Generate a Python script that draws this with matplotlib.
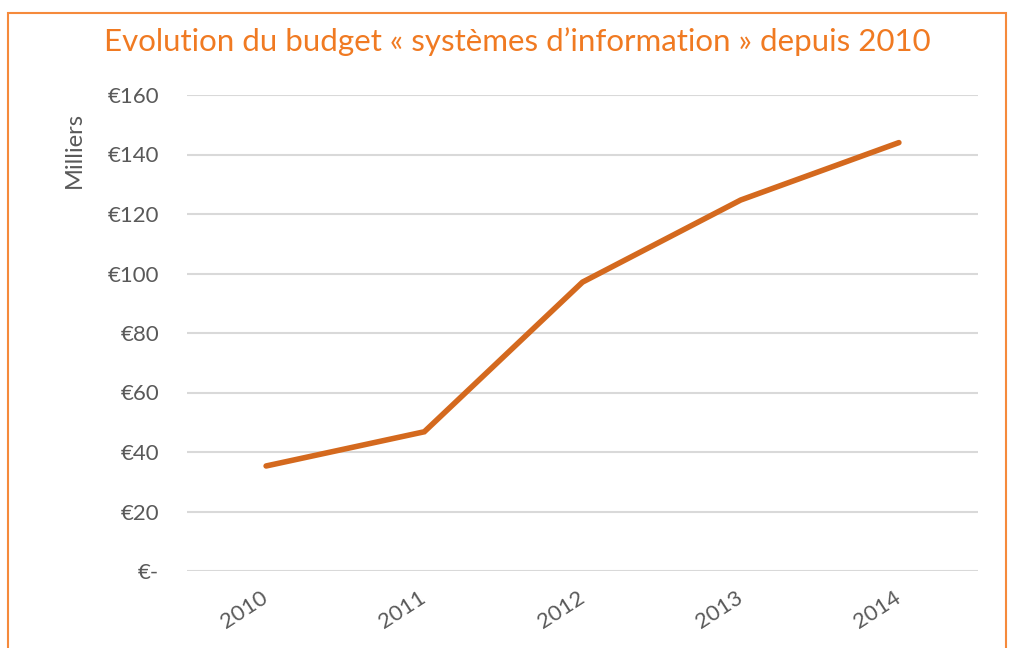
import matplotlib.pyplot as plt
from matplotlib.patches import Rectangle

# Budget data (thousands of euros)
years = ["2010", "2011", "2012", "2013", "2014"]
budget = [35.3, 46.8, 97.1, 124.7, 144.0]
y_ticks = [0, 20, 40, 60, 80, 100, 120, 140, 160]
y_tick_labels = ["€-", "€20", "€40", "€60", "€80", "€100", "€120", "€140", "€160"]

plt.rcParams["font.family"] = ["Lato", "DejaVu Sans"]

fig = plt.figure(figsize=(10.09, 6.48), dpi=100)
ax = fig.add_axes([187 / 1009, 1 - 571 / 648, (978 - 187) / 1009, (571 - 95) / 648])

x = list(range(len(years)))
ax.plot(x, budget, color="#D4691E", linewidth=4, solid_capstyle="round", solid_joinstyle="miter", zorder=3)

ax.set_xlim(-0.5, len(years) - 0.5)
ax.set_ylim(0, 160)
ax.set_yticks(y_ticks)
ax.set_yticklabels(y_tick_labels, fontsize=16, color="#595959")
ax.set_xticks(x)
ax.set_xticklabels(years, fontsize=16, color="#595959", rotation=33,
                   ha="right", va="center", rotation_mode="anchor")
ax.tick_params(axis="y", length=0, pad=20)
ax.tick_params(axis="x", length=0, pad=18)
ax.grid(axis="y", color="#D9D9D9", linewidth=1.5)
ax.set_axisbelow(True)
for s in ax.spines.values():
    s.set_visible(False)

fig.text(74 / 1009, 1 - 150 / 648, "Milliers", rotation=90, fontsize=17,
         color="#595959", ha="center", va="center")
fig.text(517 / 1009, 1 - 42 / 648, "Evolution du budget « systèmes d’information » depuis 2010",
         fontsize=22.5, color="#F07A22", ha="center", va="center")

# Orange frame, bottom edge falls outside the image
fig.patches.append(Rectangle((8 / 1009, -0.1), (1006 - 8) / 1009, 1 - 13 / 648 + 0.1,
                             transform=fig.transFigure, fill=False,
                             edgecolor="#F58A3C", linewidth=1.5))

plt.savefig("out.png", dpi=100)
plt.close()
